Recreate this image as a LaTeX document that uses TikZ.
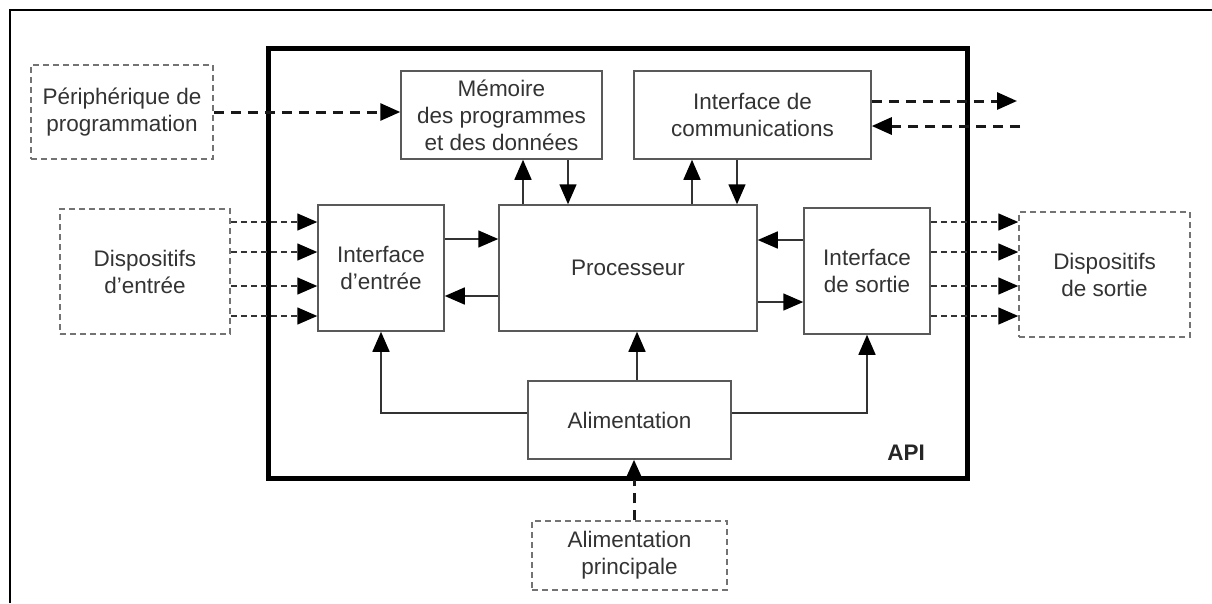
\documentclass[tikz,border=0pt]{standalone}
\usepackage{fontspec}
\setmainfont{Liberation Sans}
\usetikzlibrary{arrows.meta}
\begin{document}
\begin{tikzpicture}[x=1pt,y=-1pt,
  txt/.style={font=\fontsize{22.5}{27}\selectfont, text=black!80, align=center},
  box/.style={txt, draw=black!65, line width=1.5pt, rectangle, inner sep=0pt},
  dbox/.style={txt, draw=black!55, line width=1.5pt, dash pattern=on 6pt off 4pt, rectangle, inner sep=0pt},
  tip/.style={-{Triangle[length=20pt,width=17pt,color=black,fill=black]}},
  arr/.style={draw=black!80, line width=1.5pt, tip},
  darr/.style={arr, dash pattern=on 6pt off 4pt},
  tdarr/.style={arr, draw=black!90, line width=3pt, dash pattern=on 10pt off 7pt},
  frame/.style={draw=black, line width=5pt}
]
\useasboundingbox (0,0) rectangle (1212,603);
% outer partial frame
\draw[line width=2.5pt] (10,603) -- (10,10) -- (1212,10);
% API frame
\draw[frame] (268,48) rectangle (967,478);
\node[font=\fontsize{22.5}{27}\selectfont\bfseries, text=black!85] (api) at (906,453) {API};

% nodes
\node[dbox, minimum width=182pt, minimum height=94pt] (peri) at (122,112) {Périphérique de\\programmation};
\node[box, minimum width=201pt, minimum height=88pt] (mem) at (501.5,115) {Mémoire\\des programmes\\et des données};
\node[box, minimum width=237pt, minimum height=88pt] (comm) at (752.5,115) {Interface de\\communications};
\node[box, minimum width=258pt, minimum height=126pt] (proc) at (628,268) {Processeur};
\node[box, minimum width=126pt, minimum height=126pt] (ient) at (381,268) {Interface\\d’entrée};
\node[box, minimum width=126pt, minimum height=126pt] (isort) at (867,271) {Interface\\de sortie};
\node[box, minimum width=203pt, minimum height=78pt] (alim) at (629.5,420) {Alimentation};
\node[dbox, minimum width=170pt, minimum height=125pt] (dent) at (145,271.5) {Dispositifs\\d’entrée};
\node[dbox, minimum width=171pt, minimum height=125pt] (dsort) at (1104.5,274.5) {Dispositifs\\de sortie};
\node[dbox, minimum width=195pt, minimum height=69pt] (alimp) at (629.5,555.5) {Alimentation\\principale};

\coordinate (cout) at (1017,101);
\coordinate (cin) at (1020,126);

% programming device -> memory
\draw[tdarr] (peri.east) -- (peri.east -| mem.west);
% memory <-> processor
\draw[arr] ([xshift=-105pt]proc.north) -- ([xshift=-105pt]proc.north |- mem.south);
\draw[arr] ([xshift=-60pt]proc.north |- mem.south) -- ([xshift=-60pt]proc.north);
% communications <-> processor
\draw[arr] ([xshift=64pt]proc.north) -- ([xshift=64pt]proc.north |- comm.south);
\draw[arr] ([xshift=109pt]proc.north |- comm.south) -- ([xshift=109pt]proc.north);
% communications external
\draw[tdarr] (comm.east |- cout) -- (cout);
\draw[tdarr] (cin) -- (cin -| comm.east);
% input interface <-> processor
\draw[arr] ([yshift=29pt]ient.east) -- ([yshift=29pt]ient.east -| proc.west);
\draw[arr] ([yshift=-28pt]ient.east -| proc.west) -- ([yshift=-28pt]ient.east);
% output interface <-> processor
\draw[arr] ([yshift=31pt]isort.west) -- ([yshift=31pt]isort.west -| proc.east);
\draw[arr] ([yshift=-31pt]isort.west -| proc.east) -- ([yshift=-31pt]isort.west);
% input devices -> input interface
\foreach \s in {49.5,19.5,-14.5,-44.5}
  \draw[darr] ([yshift=\s pt]dent.east) -- ([yshift=\s pt]dent.east -| ient.west);
% output interface -> output devices
\foreach \s in {49,19,-15,-45}
  \draw[darr] ([yshift=\s pt]isort.east) -- ([yshift=\s pt]isort.east -| dsort.west);
% power supply
\draw[arr] ([xshift=7.5pt]alim.north) -- ([xshift=7.5pt]alim.north |- proc.south);
\draw[arr] ([yshift=7pt]alim.west) -| (ient.south);
\draw[arr] ([yshift=7pt]alim.east) -| (isort.south);
\draw[tdarr] ([xshift=4.5pt]alimp.north) -- ([xshift=4.5pt]alimp.north |- alim.south);
\end{tikzpicture}
\end{document}
